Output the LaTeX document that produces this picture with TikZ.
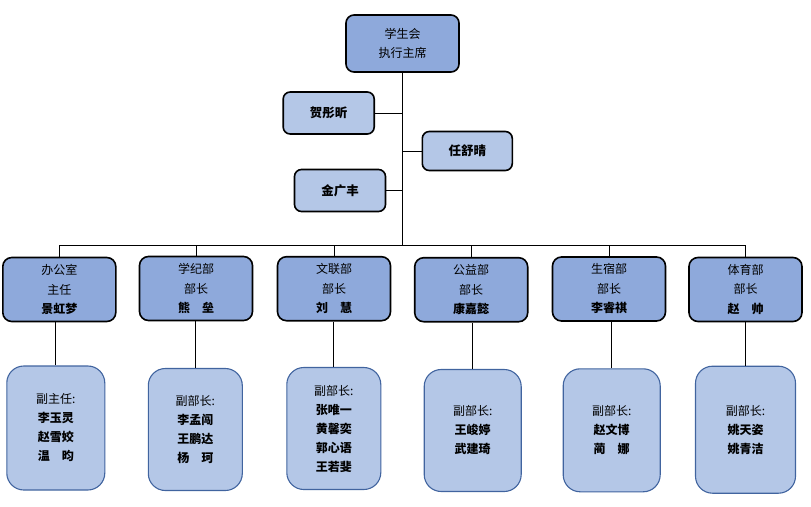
\documentclass[tikz,border=0pt]{standalone}
\usepackage{fontspec}
\setmainfont{Noto Sans CJK SC}
\usetikzlibrary{positioning}
\definecolor{headblue}{HTML}{8EA9DB}
\definecolor{paleblue}{HTML}{B4C7E7}
\definecolor{lineblue}{HTML}{41649F}

\begin{document}
\begin{tikzpicture}[
  x=1pt, y=-1pt,
  every node/.style={align=center, inner sep=0pt, font=\fontsize{12}{19.5}\selectfont},
  head/.style={draw=black, line width=1.6pt, fill=headblue, rounded corners=8pt,
    minimum width=113pt, minimum height=57pt},
  dept/.style={draw=black, line width=1.6pt, fill=headblue, rounded corners=9pt,
    minimum width=113pt, minimum height=64pt},
  aide/.style={draw=black, line width=1.6pt, fill=paleblue, rounded corners=7pt,
    minimum width=91pt, minimum height=42pt, font=\fontsize{12.5}{15}\selectfont\bfseries},
  vice/.style={draw=lineblue, line width=1.1pt, fill=paleblue, rounded corners=17pt,
    minimum width=96pt, minimum height=123pt, font=\fontsize{12}{19}\selectfont},
  link/.style={draw=black, line width=0.9pt}
]
  \useasboundingbox (0,0) rectangle (811,506);

  % top and assistants
  \node[head] (chair) at (402.5,43.5) {学生会\\执行主席};
  \node[aide] (he)  at (328.7,113) {贺彤昕};
  \node[aide, minimum width=90pt, minimum height=39pt] (ren) at (467.3,151) {任舒晴};
  \node[aide] (jin) at (340,190.5) {金广丰};
  \coordinate (bar) at (402.5,245);

  % departments
  \node[dept] (d1) at (59.3,289.5) {办公室\\主任\\\textbf{景虹梦}};
  \node[dept] (d2) at (196,288.5)  {学纪部\\部长\\\textbf{熊　垒}};
  \node[dept] (d3) at (334,288.7)  {文联部\\部长\\\textbf{刘　慧}};
  \node[dept] (d4) at (471.2,289.7) {公益部\\部长\\\textbf{康嘉懿}};
  \node[dept] (d5) at (609,289)    {生宿部\\部长\\\textbf{李睿祺}};
  \node[dept] (d6) at (745.5,289.5) {体育部\\部长\\\textbf{赵　帅}};

  % deputies
  \node[vice, minimum width=98pt, minimum height=124pt] (s1) at (55.8,428)
    {副主任:\\\textbf{李玉灵}\\\textbf{赵雪姣}\\\textbf{温　昀}};
  \node[vice, minimum width=94pt, minimum height=122pt] (s2) at (195.3,429.5)
    {副部长:\\\textbf{李孟闯}\\\textbf{王鹏达}\\\textbf{杨　珂}};
  \node[vice, minimum width=94pt, minimum height=122pt] (s3) at (333.8,428.5)
    {副部长:\\\textbf{张唯一}\\\textbf{黄馨奕}\\\textbf{郭心语}\\\textbf{王若斐}};
  \node[vice, minimum width=97pt, minimum height=122pt] (s4) at (472.7,430.5)
    {副部长:\\\textbf{王峻婷}\\\textbf{武建琦}};
  \node[vice, minimum width=97pt, minimum height=123pt] (s5) at (611.7,430.3)
    {副部长:\\\textbf{赵文博}\\\textbf{蔺　娜}};
  \node[vice, minimum width=100pt, minimum height=127pt] (s6) at (745.5,429.7)
    {副部长:\\\textbf{姚天姿}\\\textbf{姚青洁}};

  % connectors
  \draw[link] (chair.south) -- (bar);
  \draw[link] (he.east) -- (he.east -| bar);
  \draw[link] (ren.west) -- (ren.west -| bar);
  \draw[link] (jin.east) -- (jin.east -| bar);
  \draw[link] (d1.north |- bar) -- (d6.north |- bar);
  \foreach \i in {1,...,6} {
    \draw[link] (d\i.north) -- (d\i.north |- bar);
    \draw[link] (s\i.north) -- (s\i.north |- d\i.south);
  }
\end{tikzpicture}
\end{document}
